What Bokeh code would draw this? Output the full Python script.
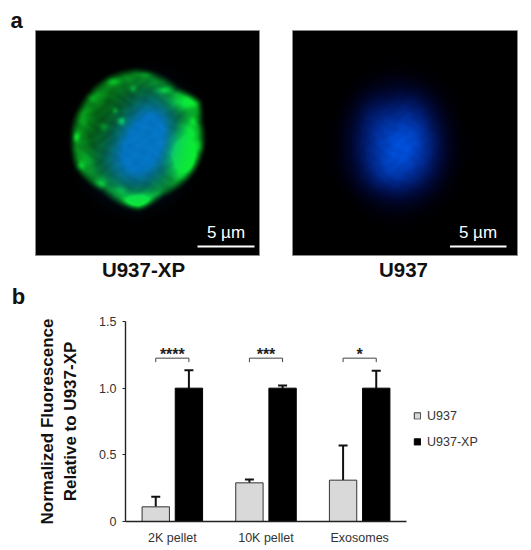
import numpy as np
from bokeh.plotting import figure
from bokeh.embed import file_html
from bokeh.resources import INLINE
from bokeh.core.properties import value
from bokeh.transform import dodge
from bokeh.models import (ColumnDataSource, FactorRange, FixedTicker, Label, Legend, LegendItem,
                          Range1d, TeeHead, Whisker)

# ---- chart data
categories = ["2K pellet", "10K pellet", "Exosomes"]
u937_mean = [0.11, 0.29, 0.31]
u937_top = [0.185, 0.315, 0.57]
xp_mean = [1.0, 1.0, 1.0]
xp_top = [1.135, 1.02, 1.13]
bracket_high = [1.225, 1.225, 1.225]
bracket_low = [1.195, 1.195, 1.195]
star_y = [1.25, 1.25, 1.25]
stars = ["****", "***", "*"]
tick_values = [0, 0.5, 1.0, 1.5]
tick_labels = ["0", "0.5", "1.0", "1.5"]

# ---- micrograph descriptions (x, y, sx, sy, amplitude), in zoom units of each panel
green_blobs = [(490, 405, 30, 42, 1.0), (352, 542, 28, 14, 1.0), (500, 245, 36, 20, 0.5),
               (507, 325, 20, 24, 0.35), (305, 302, 8, 8, 0.6), (168, 350, 8, 11, 0.45),
               (240, 490, 13, 10, 0.35), (275, 182, 13, 8, 0.3), (432, 210, 13, 7, 0.35),
               (195, 420, 20, 22, 0.2), (250, 320, 9, 9, 0.2), (420, 520, 28, 9, 0.2),
               (285, 270, 6, 6, 0.3), (340, 205, 7, 7, 0.25), (215, 230, 18, 10, 0.2),
               (190, 290, 10, 18, 0.15), (300, 510, 14, 9, 0.3), (520, 300, 8, 10, 0.2),
               (180, 440, 9, 9, 0.25), (380, 160, 18, 6, 0.2), (545, 380, 8, 12, 0.25)]
outline_deg = [0, 15, 31, 52, 90, 115, 144, 180, 205, 236, 270, 294, 330, 360]
outline_rad = [195, 195, 214, 189, 205, 203, 197, 200, 203, 187, 210, 181, 190, 195]
blue_left = [(392, 320, 55, 66, 0.85), (345, 425, 64, 60, 0.8), (405, 330, 20, 34, 0.2),
             (350, 370, 44, 44, 0.2)]
blue_right = [(345, 395, 62, 62, 0.38), (385, 350, 42, 50, 0.2), (275, 290, 40, 45, 0.12),
              (400, 270, 40, 40, 0.1), (330, 465, 60, 35, 0.16), (440, 400, 30, 60, 0.06)]


def grid(n=675):
    return np.meshgrid(np.arange(n) + 0.5, np.arange(n) + 0.5)


def blobs(X, Y, items, ox, oy):
    out = np.zeros_like(X, dtype=float)
    for x, y, sx, sy, a in items:
        out += a * np.exp(-((X + ox - x) ** 2) / (2 * sx ** 2) - ((Y + oy - y) ** 2) / (2 * sy ** 2))
    return out


def mottle(X, Y):
    return (np.sin(X / 9.0 + 1.3 * np.sin(Y / 13.0)) * np.sin(Y / 8.0 + 1.1 * np.sin(X / 17.0)))


def to_rgba(r, g, b):
    n = r.shape[0]
    arr = np.zeros((n, n), dtype=np.uint32)
    v = arr.view(dtype=np.uint8).reshape((n, n, 4))
    v[..., 0] = np.clip(r, 0, 255)
    v[..., 1] = np.clip(g, 0, 255)
    v[..., 2] = np.clip(b, 0, 255)
    v[..., 3] = 255
    return arr[::-1]


def left_image():
    X, Y = grid()
    ox, oy = 45, 30
    dx, dy = X + ox - 355, -(Y + oy - 355)
    th = np.degrees(np.arctan2(dy, dx)) % 360
    r = np.hypot(dx, dy)
    rout = np.interp(th, outline_deg, outline_rad)
    edge = np.clip((rout - r + 16) / 34, 0, 1)
    edge = edge * edge * (3 - 2 * edge)
    ring = np.exp(-((rout - r - 20) ** 2) / (2 * 22 ** 2))
    g = edge * (0.36 + 0.18 * ring + 0.04 * mottle(X, Y)) + edge * blobs(X, Y, green_blobs, ox, oy)
    g = np.clip(g, 0, 1)
    bl = np.clip(blobs(X, Y, blue_left, ox, oy) * 1.15, 0, 1)
    bl = bl * (1 + 0.03 * mottle(X, Y))
    green = 240 * g * (1 - 0.8 * bl) + 100 * bl
    blue = 195 * bl + 45 * g * (1 - bl)
    red = 12 * g
    return to_rgba(red, green, blue)


def right_image():
    X, Y = grid()
    ox, oy = 35, 30
    e = np.hypot((X + ox - 352) / 135, (Y + oy - 372) / 160)
    body = np.exp(-e ** 3) * 0.5
    b = np.clip((body + blobs(X, Y, blue_right, ox, oy) * 0.75) * (1 + 0.04 * mottle(X, Y)), 0, 1.1)
    return to_rgba(0 * b, 95 * b ** 1.5, 245 * b)


# ---- upper part: micrographs
W = 531
H_TOP = 308
top = figure(width=W, height=H_TOP, x_range=Range1d(0, 531), y_range=Range1d(0, H_TOP),
             output_backend="svg", toolbar_location=None, min_border=0)
top.axis.visible = False
top.grid.visible = False
top.outline_line_color = None


def Y(py):
    return H_TOP - py


panels = [(35, 224, left_image(), 197, 254, 225.5, "U937-XP", 143),
          (292, 225, right_image(), 449.5, 506, 477.5, "U937", 403)]
for x0, w, img, b0, b1, tx, name, nx in panels:
    top.image_rgba(image=[img], x=x0, y=Y(255), dw=w, dh=225)
    top.quad(left=x0, right=x0 + w, bottom=Y(255), top=Y(30), fill_color=None,
             line_color="#8a8a8a", line_width=1)
    top.segment(x0=b0, x1=b1, y0=Y(246), y1=Y(246), line_color="white", line_width=2)
    top.add_layout(Label(x=tx, y=Y(232), text="5 µm", text_color="white", text_font="Liberation Sans",
                         text_font_size="17px", text_align="center", text_baseline="middle"))
    top.add_layout(Label(x=nx, y=Y(269), text=name, text_color="#111111", text_font="Liberation Sans",
                         text_font_style="bold", text_font_size="20.5px", text_align="center",
                         text_baseline="middle"))
for letter, lx, ly in [("a", 16, 20), ("b", 18, 296)]:
    top.add_layout(Label(x=lx, y=Y(ly), text=letter, text_color="#111111", text_font="Liberation Sans",
                         text_font_style="bold", text_font_size="22px", text_align="center",
                         text_baseline="middle"))

# ---- lower part: bar chart
p = figure(frame_width=281, frame_height=200, x_range=FactorRange(factors=categories, range_padding=0, factor_padding=0),
           y_range=Range1d(0, 1.5), output_backend="svg", toolbar_location=None,
           min_border_left=125, min_border_right=125, min_border_top=13, min_border_bottom=29)
p.grid.visible = False
p.outline_line_color = None

src = ColumnDataSource(dict(cat=categories, u=u937_mean, ut=u937_top, x=xp_mean, xt=xp_top,
                            hi=bracket_high, lo=bracket_low, sy=star_y, st=stars))
OFF = 0.177
BW = 0.292
left_x = dodge("cat", -OFF, range=p.x_range)
right_x = dodge("cat", OFF, range=p.x_range)
r1 = p.vbar(x=left_x, top="u", width=BW, source=src, fill_color="#d9d9d9", line_color="#333333", line_width=1)
r2 = p.vbar(x=right_x, top="x", width=BW, source=src, fill_color="#000000", line_color="#000000", line_width=1)
p.add_layout(Whisker(source=src, base=left_x, upper="ut", lower="u", line_color="#111111", line_width=2,
                     upper_head=TeeHead(size=9, line_color="#111111", line_width=2), lower_head=None))
p.add_layout(Whisker(source=src, base=right_x, upper="xt", lower="x", line_color="#111111", line_width=2,
                     upper_head=TeeHead(size=9, line_color="#111111", line_width=2), lower_head=None))
p.segment(x0=left_x, x1=right_x, y0="hi", y1="hi", source=src, line_color="#444444", line_width=1)
p.segment(x0=left_x, x1=left_x, y0="lo", y1="hi", source=src, line_color="#444444", line_width=1)
p.segment(x0=right_x, x1=right_x, y0="lo", y1="hi", source=src, line_color="#444444", line_width=1)
p.text(x="cat", y="sy", text="st", source=src, text_align="center", text_baseline="middle",
       text_font=value("Liberation Sans"), text_font_style="bold", text_font_size="16px", text_color="#222222")

p.yaxis.ticker = FixedTicker(ticks=tick_values)
p.yaxis.major_label_overrides = dict(zip(tick_values, tick_labels))
p.yaxis.axis_label = "Normalized Fluorescence\nRelative to U937-XP"
p.yaxis.axis_label_text_font = "Liberation Sans"
p.yaxis.axis_label_text_font_style = "bold"
p.yaxis.axis_label_text_font_size = "17px"
p.yaxis.axis_label_text_color = "#111111"
p.yaxis.axis_label_standoff = 16
p.yaxis.minor_tick_line_color = None
p.yaxis.major_tick_in = 0
p.yaxis.major_tick_out = 3
p.yaxis.major_tick_line_color = "#222222"
p.yaxis.major_label_standoff = 6
p.xaxis.major_label_standoff = 3
for ax in (p.xaxis, p.yaxis):
    ax.axis_line_color = "#222222"
    ax.axis_line_width = 1.4
    ax.major_label_text_font = "Liberation Sans"
    ax.major_label_text_font_size = "12.5px"
    ax.major_label_text_color = "#333333"
p.xaxis.major_tick_line_color = None

leg = Legend(items=[LegendItem(label="U937", renderers=[r1]), LegendItem(label="U937-XP", renderers=[r2])],
             location="center_left", orientation="vertical", border_line_color=None, background_fill_color=None,
             padding=0, margin=7, spacing=12, glyph_width=8, glyph_height=8, label_standoff=6,
             label_text_font="Liberation Sans", label_text_font_size="12.5px", label_text_color="#333333",
             label_height=13, title=" ", title_text_font_size="1px", title_standoff=14)
p.add_layout(leg, "right")

open("out.html", "w").write(file_html([top, p], INLINE))
